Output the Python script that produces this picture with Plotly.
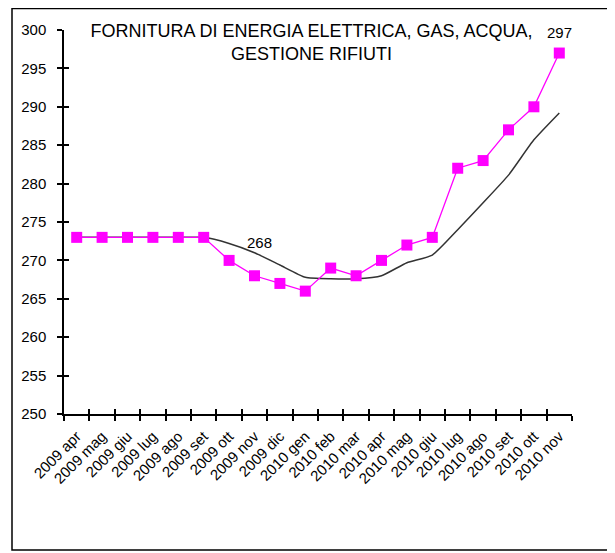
import plotly.graph_objects as go

months = ["2009 apr", "2009 mag", "2009 giu", "2009 lug", "2009 ago", "2009 set",
          "2009 ott", "2009 nov", "2009 dic", "2010 gen", "2010 feb", "2010 mar",
          "2010 apr", "2010 mag", "2010 giu", "2010 lug", "2010 ago", "2010 set",
          "2010 ott", "2010 nov"]
indice = [273, 273, 273, 273, 273, 273, 270, 268, 267, 266, 269, 268,
          270, 272, 273, 282, 283, 287, 290, 297]
tendenza = [273, 273, 273, 273, 273, 273, 272.2, 271.0, 269.4, 267.8, 267.6, 267.6,
            268.0, 269.7, 270.7, 274.0, 277.5, 281.1, 285.7, 289.2]
etichette = {7: "268", 19: "297"}

# the page puts the figure 8px in from the window corner
W, H = 607, 545
L, R, T, B = 56, 43, 22, 139
pw, ph = W - L - R, H - T - B

fig = go.Figure()

fig.add_trace(go.Scatter(
    x=months, y=tendenza, mode="lines",
    line=dict(color="#333333", width=1.5, shape="spline", smoothing=0.5),
    showlegend=False, hoverinfo="skip"))

fig.add_trace(go.Scatter(
    x=months, y=indice, mode="lines+markers",
    line=dict(color="#FF00FF", width=1.3),
    marker=dict(symbol="square", size=11, color="#FF00FF"),
    showlegend=False))

# invisible copy on overlay axes, only to get the inner half of the cross ticks
fig.add_trace(go.Scatter(
    x=months, y=indice, xaxis="x2", yaxis="y2", mode="lines",
    opacity=0, showlegend=False, hoverinfo="skip"))

for i, txt in etichette.items():
    fig.add_annotation(x=months[i], y=indice[i], text=txt, showarrow=False,
                       yshift=33 if i == 7 else 21, xshift=5 if i == 7 else 0,
                       font=dict(size=15, color="#000000"))

axis_x = dict(type="category", range=[-0.5, 19.5],
              categoryarray=months, categoryorder="array",
              showgrid=False, zeroline=False, tickson="boundaries",
              tickcolor="#000000", tickwidth=1.5, ticklen=5)
axis_y = dict(range=[250, 300], dtick=5, showgrid=False, zeroline=False,
              tickcolor="#000000", tickwidth=1.5, ticklen=5)

fig.update_layout(
    width=W, height=H,
    margin=dict(l=L, r=R, t=T, b=B),
    paper_bgcolor="white", plot_bgcolor="white",
    font=dict(family="Liberation Sans, Arial, sans-serif", color="#000000", size=15),
    title=dict(text="FORNITURA DI ENERGIA ELETTRICA, GAS, ACQUA,<br>GESTIONE RIFIUTI",
               x=(303.5 - L) / pw, xref="paper", xanchor="center",
               y=(H - 29) / H, yanchor="middle",
               font=dict(size=18, color="#000000")),
    shapes=[dict(type="rect", xref="paper", yref="paper",
                 x0=(4 - L) / pw, x1=(604 - L) / pw,
                 y0=(H - B - 542) / ph, y1=(H - B - 0.5) / ph,
                 line=dict(color="#000000", width=1.5))],
    xaxis=dict(axis_x, showline=True, linecolor="#000000", linewidth=1.5,
               ticks="outside", tickangle=-45, ticklabelstandoff=6,
               tickfont=dict(size=15)),
    yaxis=dict(axis_y, showline=True, linecolor="#000000", linewidth=1.5,
               ticks="outside", ticklabelstandoff=8, tickfont=dict(size=15)),
    xaxis2=dict(axis_x, overlaying="x", anchor="y2", showline=False,
                showticklabels=False, ticks="inside"),
    yaxis2=dict(axis_y, overlaying="y", anchor="x2", showline=False,
                showticklabels=False, ticks="inside"),
)

fig.write_html("out.html")
